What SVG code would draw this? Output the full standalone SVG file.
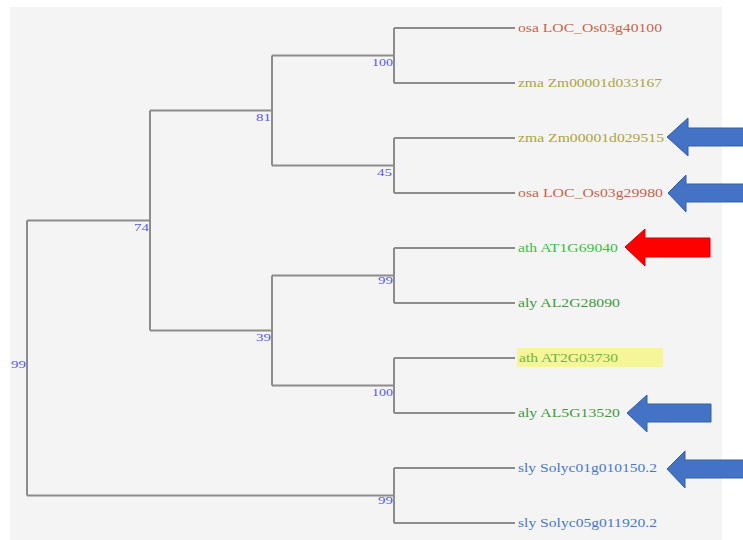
<svg xmlns="http://www.w3.org/2000/svg" width="743" height="540" viewBox="0 0 743 540">
<style>
.edge{fill:none;stroke:#8c8c8c;stroke-width:2}
.leaf{font-family:"Liberation Serif","Times New Roman",serif;font-size:12px}
.bs{font-family:"Liberation Serif","Times New Roman",serif;font-size:11px;fill:#5a5ae0;text-anchor:end}
.osa{fill:#c4644c}
.zma{fill:#aea33f}
.ath{fill:#3cbf3c}
.aly{fill:#3f9a3f}
.sly{fill:#4a78c4}
.barrow{fill:#4472c4;stroke:#35609f;stroke-width:1}
.rarrow{fill:#ff0000;stroke:#d00000;stroke-width:1}
</style>
<rect x="0" y="0" width="743" height="540" fill="#ffffff"/>
<rect x="10" y="7" width="712" height="533" fill="#f4f4f4"/>
<g id="connectors">
<path class="edge" d="M27,220.5V495.5M27,220.5H150M27,495.5H394"/>
<path class="edge" d="M150,110.5V330.5M150,110.5H272M150,330.5H272"/>
<path class="edge" d="M272,55.5V165.5M272,55.5H394M272,165.5H394"/>
<path class="edge" d="M272,275.5V385.5M272,275.5H394M272,385.5H394"/>
<path class="edge" d="M394,28V83M394,28H515M394,83H515"/>
<path class="edge" d="M394,138V193M394,138H515M394,193H515"/>
<path class="edge" d="M394,248V303M394,248H515M394,303H515"/>
<path class="edge" d="M394,358V413M394,358H515M394,413H515"/>
<path class="edge" d="M394,468V523M394,468H515M394,523H515"/>
</g>
<g id="bootstrap">
<g id="n-root"><text class="bs" x="26" y="368" textLength="15" lengthAdjust="spacingAndGlyphs">99</text></g>
<g id="n-74"><text class="bs" x="149" y="230.5" textLength="15" lengthAdjust="spacingAndGlyphs">74</text></g>
<g id="n-81"><text class="bs" x="271" y="121" textLength="15" lengthAdjust="spacingAndGlyphs">81</text></g>
<g id="n-39"><text class="bs" x="271" y="341" textLength="15" lengthAdjust="spacingAndGlyphs">39</text></g>
<g id="n-100a"><text class="bs" x="393" y="66" textLength="21" lengthAdjust="spacingAndGlyphs">100</text></g>
<g id="n-45"><text class="bs" x="392" y="176" textLength="15" lengthAdjust="spacingAndGlyphs">45</text></g>
<g id="n-99a"><text class="bs" x="393" y="284" textLength="15" lengthAdjust="spacingAndGlyphs">99</text></g>
<g id="n-100b"><text class="bs" x="393" y="396" textLength="21" lengthAdjust="spacingAndGlyphs">100</text></g>
<g id="n-99b"><text class="bs" x="393" y="504" textLength="15" lengthAdjust="spacingAndGlyphs">99</text></g>
</g>
<g id="leaf-osa-40100"><text class="leaf osa" x="518" y="32" textLength="144" lengthAdjust="spacingAndGlyphs">osa LOC_Os03g40100</text></g>
<g id="leaf-zma-033167"><text class="leaf zma" x="518" y="87" textLength="144" lengthAdjust="spacingAndGlyphs">zma Zm00001d033167</text></g>
<g id="leaf-zma-029515"><text class="leaf zma" x="518" y="142" textLength="146" lengthAdjust="spacingAndGlyphs">zma Zm00001d029515</text></g>
<g id="leaf-osa-29980"><text class="leaf osa" x="518" y="197" textLength="145" lengthAdjust="spacingAndGlyphs">osa LOC_Os03g29980</text></g>
<g id="leaf-ath-69040"><text class="leaf ath" x="518" y="252" textLength="100" lengthAdjust="spacingAndGlyphs">ath AT1G69040</text></g>
<g id="leaf-aly-28090"><text class="leaf aly" x="518" y="307" textLength="102" lengthAdjust="spacingAndGlyphs">aly AL2G28090</text></g>
<g id="leaf-ath-03730"><rect x="517" y="348" width="146" height="19" fill="#f6f59a"/><text class="leaf ath" x="519" y="362" textLength="99" lengthAdjust="spacingAndGlyphs" style="fill:#6cb83a">ath AT2G03730</text></g>
<g id="leaf-aly-13520"><text class="leaf aly" x="518" y="417" textLength="102" lengthAdjust="spacingAndGlyphs">aly AL5G13520</text></g>
<g id="leaf-sly-010150"><text class="leaf sly" x="518" y="472" textLength="139" lengthAdjust="spacingAndGlyphs">sly Solyc01g010150.2</text></g>
<g id="leaf-sly-011920"><text class="leaf sly" x="518" y="527" textLength="139" lengthAdjust="spacingAndGlyphs">sly Solyc05g011920.2</text></g>
<g id="arrows">
<polygon class="barrow" points="667,137 688,118 688,128 745,128 745,146 688,146 688,156"/>
<polygon class="barrow" points="668,193 686,175 686,184 745,184 745,202 686,202 686,212"/>
<polygon class="rarrow" points="625,247 645,229 645,238 710,238 710,257 645,257 645,266"/>
<polygon class="barrow" points="627,413 647,395 647,404 711,404 711,422 647,422 647,432"/>
<polygon class="barrow" points="667,469 685,451 685,460 745,460 745,478 685,478 685,488"/>
</g>
</svg>
